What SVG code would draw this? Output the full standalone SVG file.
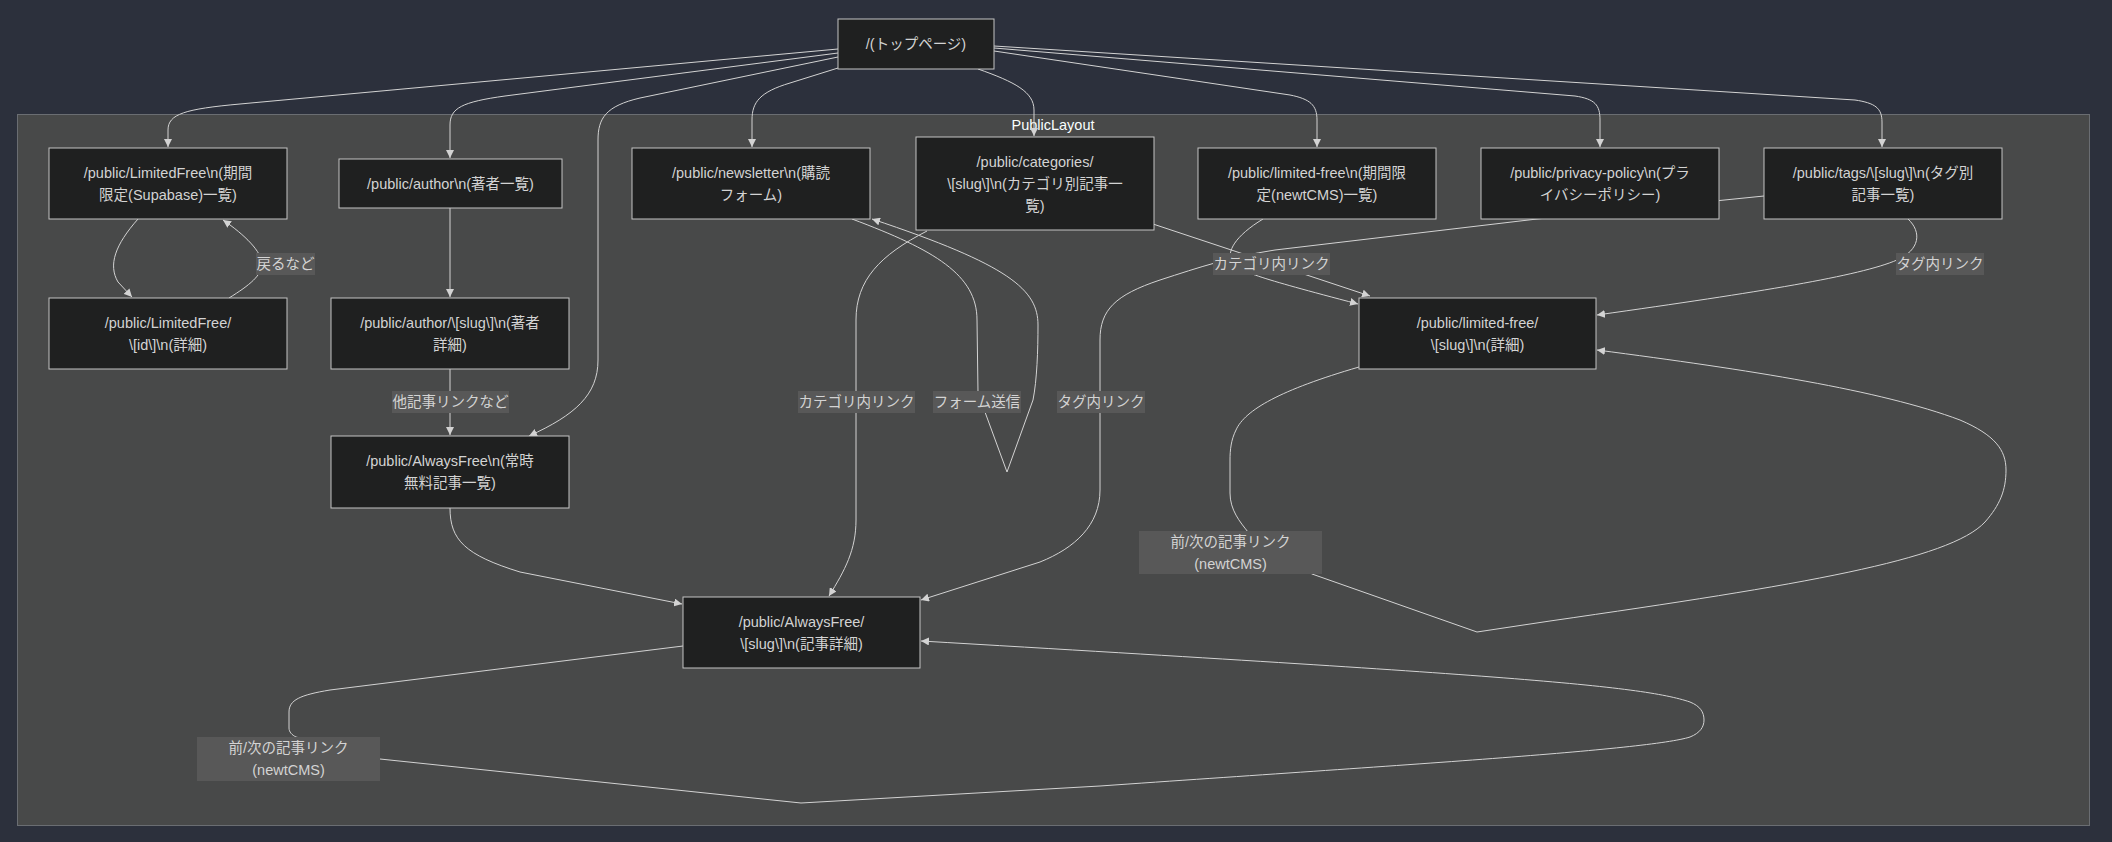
<svg xmlns="http://www.w3.org/2000/svg" width="2112" height="842" viewBox="0 0 2112 842">
<defs>
<style>
.bg{fill:#2c303c}
.cluster{fill:#484949;stroke:#6a6d72;stroke-width:1}
.ctitle{fill:#f9fffe;font-family:"Liberation Sans",Arial,"Noto Sans CJK JP",sans-serif;font-size:14.5px;text-anchor:middle;dominant-baseline:central}
.node rect{fill:#1f2020;stroke:#c4c4c4;stroke-width:1}
.node text,.lbl text{fill:#d3d3d3;font-family:"Liberation Sans",Arial,"Noto Sans CJK JP",sans-serif;font-size:14.5px;text-anchor:middle;dominant-baseline:central}
.lbl rect{fill:#585858}
.edge{fill:none;stroke:#d3d3d3;stroke-width:1;marker-end:url(#arr)}
.nomark{marker-end:none}
</style>
<marker id="arr" viewBox="0 0 10 10" refX="10" refY="5" markerWidth="8" markerHeight="8" markerUnits="userSpaceOnUse" orient="auto">
<path d="M0,0 L10,5 L0,10 z" fill="#d3d3d3"/>
</marker>
</defs>
<rect class="bg" x="0" y="0" width="2112" height="842"/>
<g id="cluster-PublicLayout">
<rect class="cluster" x="17.5" y="114.5" width="2072" height="711"/>
<text class="ctitle" x="1053" y="125">PublicLayout</text>
</g>
<g id="connectors">
<path class="edge" d="M838,49 L240,104 C185,109 168,114 168,130 L168,147"/>
<path class="edge" d="M838,53 L505,96 C462,102 450,108 450,125 L450,158"/>
<path class="edge" d="M838,57 L640,98 C606,106 598,118 598,140 L598,360 C598,395 575,415 529,436"/>
<path class="edge" d="M838,68 L790,83 C760,92 752,102 752,120 L752,147"/>
<path class="edge" d="M978,69 C1015,82 1034,92 1034,110 L1034,136"/>
<path class="edge" d="M994,51 L1290,95 C1310,99 1317,105 1317,120 L1317,147"/>
<path class="edge" d="M994,48 L1575,96 C1595,99 1600,105 1600,120 L1600,147"/>
<path class="edge" d="M994,46 L1855,100 C1875,103 1882,108 1882,122 L1882,147"/>
<path class="edge" d="M138,219 C115,245 108,265 118,282 L132,297"/>
<path class="edge" d="M229,298 C250,285 262,275 262,264 C262,252 245,235 223,220"/>
<path class="edge" d="M450,208 L450,297"/>
<path class="edge" d="M450,369 L450,435"/>
<path class="edge" d="M450,508 C450,540 465,555 520,572 L682,604"/>
<path class="edge" d="M927,231 C880,255 856,280 856,320 L856,520 C856,550 845,570 829,596"/>
<path class="edge" d="M852,219 C935,250 977,275 977,320 L978,393 L1007,472 L1033,400 C1037,380 1038,350 1038,325 C1038,290 1010,265 872,219"/>
<path class="edge" d="M1764,196 L1537,219 L1275,250 C1230,257 1200,267 1160,280 C1115,295 1100,310 1100,340 L1100,490 C1100,525 1075,548 1040,562 L921,600"/>
<path class="edge" d="M1153,224 L1370,296"/>
<path class="edge" d="M1263,219 C1235,236 1226,252 1232,262 C1238,271 1255,277 1358,304"/>
<path class="edge" d="M1908,219 C1922,232 1920,250 1897,260 C1860,276 1760,292 1597,315"/>
<path class="edge" d="M1359,367 C1280,390 1245,410 1236,430 C1231,440 1230,450 1230,460 L1230,493 C1230,510 1240,522 1248,532 L1312,574 L1477,632 L1550,621 C1800,585 1950,560 1985,522 C2000,505 2006,490 2006,470 C2006,450 1995,435 1960,420 C1880,390 1750,370 1597,350"/>
<path class="edge" d="M683,646 L330,690 C300,695 289,700 289,712 L289,728 C289,732 292,735 296,737 L380,759 L801,803 L1100,786 C1400,765 1650,750 1690,737 C1700,733 1704,727 1704,720 C1704,712 1700,706 1690,702 C1640,685 1500,675 921,641"/>
</g>
<g id="edge-labels">
<g class="lbl"><rect x="256" y="253" width="59" height="22"/><text x="285.5" y="264">戻るなど</text></g>
<g class="lbl"><rect x="392" y="391" width="117" height="22"/><text x="450.5" y="402">他記事リンクなど</text></g>
<g class="lbl"><rect x="798" y="391" width="117" height="22"/><text x="856.5" y="402">カテゴリ内リンク</text></g>
<g class="lbl"><rect x="933" y="391" width="88" height="22"/><text x="977" y="402">フォーム送信</text></g>
<g class="lbl"><rect x="1057" y="391" width="88" height="22"/><text x="1101" y="402">タグ内リンク</text></g>
<g class="lbl"><rect x="1213" y="253" width="117" height="22"/><text x="1271.5" y="264">カテゴリ内リンク</text></g>
<g class="lbl"><rect x="1896" y="253" width="88" height="22"/><text x="1940" y="264">タグ内リンク</text></g>
<g class="lbl"><rect x="1139" y="531" width="183" height="43"/><text x="1230.5" y="542">前/次の記事リンク</text><text x="1230.5" y="564">(newtCMS)</text></g>
<g class="lbl"><rect x="197" y="737" width="183" height="44"/><text x="288.5" y="748">前/次の記事リンク</text><text x="288.5" y="770">(newtCMS)</text></g>
</g>
<g id="node-top" class="node"><rect x="838" y="19" width="156" height="50"/><text x="916" y="44">/(トップページ)</text></g>
<g id="node-LimitedFree" class="node"><rect x="49" y="148" width="238" height="71"/><text x="168" y="172.5">/public/LimitedFree\n(期間</text><text x="168" y="194.5">限定(Supabase)一覧)</text></g>
<g id="node-author" class="node"><rect x="339" y="159" width="223" height="49"/><text x="450.5" y="183.5">/public/author\n(著者一覧)</text></g>
<g id="node-newsletter" class="node"><rect x="632" y="148" width="238" height="71"/><text x="751" y="172.5">/public/newsletter\n(購読</text><text x="751" y="194.5">フォーム)</text></g>
<g id="node-categories" class="node"><rect x="916" y="137" width="238" height="93"/><text x="1035" y="161.5">/public/categories/</text><text x="1035" y="183.5">\[slug\]\n(カテゴリ別記事一</text><text x="1035" y="205.5">覧)</text></g>
<g id="node-limited-free" class="node"><rect x="1198" y="148" width="238" height="71"/><text x="1317" y="172.5">/public/limited-free\n(期間限</text><text x="1317" y="194.5">定(newtCMS)一覧)</text></g>
<g id="node-privacy-policy" class="node"><rect x="1481" y="148" width="238" height="71"/><text x="1600" y="172.5">/public/privacy-policy\n(プラ</text><text x="1600" y="194.5">イバシーポリシー)</text></g>
<g id="node-tags" class="node"><rect x="1764" y="148" width="238" height="71"/><text x="1883" y="172.5">/public/tags/\[slug\]\n(タグ別</text><text x="1883" y="194.5">記事一覧)</text></g>
<g id="node-LimitedFree-id" class="node"><rect x="49" y="298" width="238" height="71"/><text x="168" y="322.5">/public/LimitedFree/</text><text x="168" y="344.5">\[id\]\n(詳細)</text></g>
<g id="node-author-slug" class="node"><rect x="331" y="298" width="238" height="71"/><text x="450" y="322.5">/public/author/\[slug\]\n(著者</text><text x="450" y="344.5">詳細)</text></g>
<g id="node-AlwaysFree" class="node"><rect x="331" y="436" width="238" height="72"/><text x="450" y="461">/public/AlwaysFree\n(常時</text><text x="450" y="483">無料記事一覧)</text></g>
<g id="node-AlwaysFree-slug" class="node"><rect x="683" y="597" width="237" height="71"/><text x="801.5" y="621.5">/public/AlwaysFree/</text><text x="801.5" y="643.5">\[slug\]\n(記事詳細)</text></g>
<g id="node-limited-free-slug" class="node"><rect x="1359" y="298" width="237" height="71"/><text x="1477.5" y="322.5">/public/limited-free/</text><text x="1477.5" y="344.5">\[slug\]\n(詳細)</text></g>
</svg>
